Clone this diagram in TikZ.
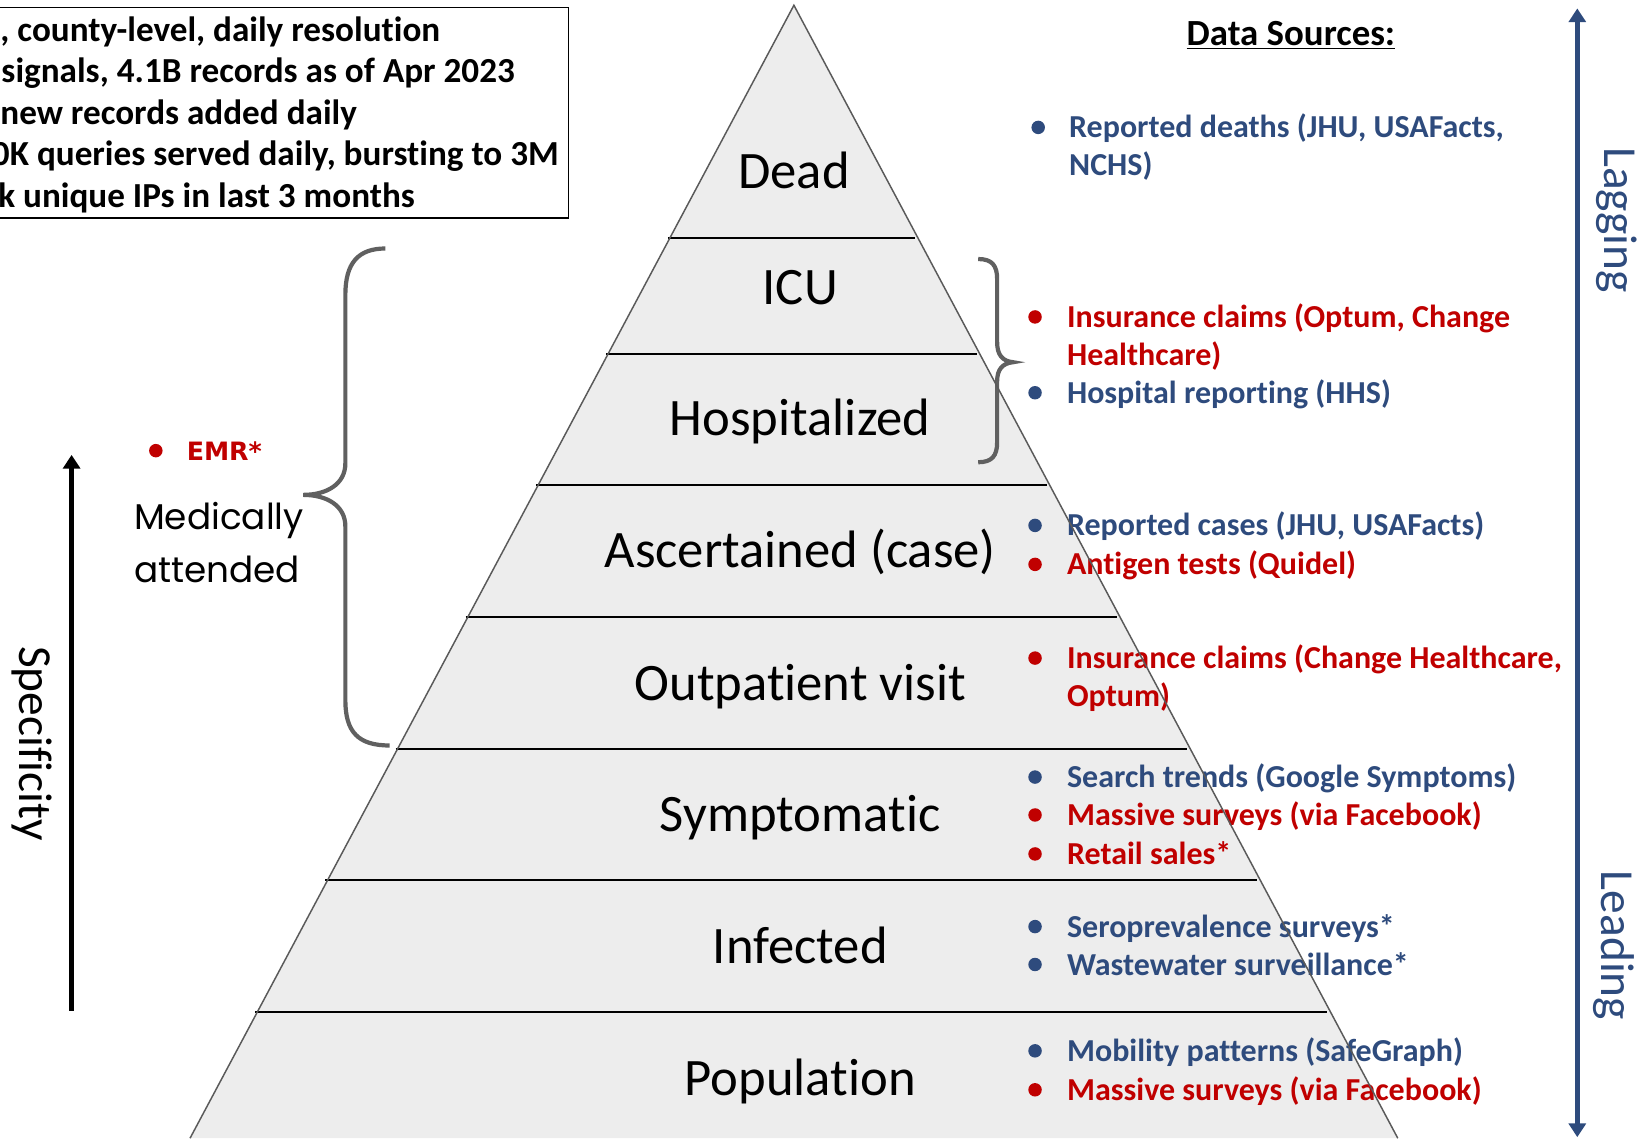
\documentclass[tikz,border=0pt]{standalone}
\usepackage{fontspec}
\setmainfont{Carlito}[Ligatures=CommonOff]
\newfontfamily\geofont{Poppins}
\newfontfamily\verdfont{DejaVu Sans}
\usetikzlibrary{math}
\usetikzlibrary{arrows.meta}

\definecolor{layergray}{HTML}{EDEDED}
\definecolor{edgegray}{HTML}{5A5A5A}
\definecolor{bracegray}{HTML}{606060}
\definecolor{srcblue}{HTML}{2E4B7D}
\definecolor{srcred}{HTML}{C00000}

\begin{document}
\begin{tikzpicture}[x=0.5pt, y=-0.5pt,
  layer/.style={anchor=base, inner sep=0pt, font=\fontsize{25}{30}\selectfont},
  divider/.style={black, line width=1pt},
  pyredge/.style={edgegray, line width=0.7pt},
  src/.style={anchor=base west, inner sep=0pt, font=\bfseries\fontsize{15.2}{18}\selectfont},
  srcb/.style={src, text=srcblue},
  srcr/.style={src, text=srcred},
  dotb/.style={circle, inner sep=0pt, minimum size=6.4pt, fill=srcblue},
  dotr/.style={circle, inner sep=0pt, minimum size=6.4pt, fill=srcred},
  boxline/.style={anchor=base west, inner sep=0pt, font=\bfseries\fontsize{16.7}{20}\selectfont},
  curly/.style={bracegray, line width=2pt},
  sidelabel/.style={rotate=-90, inner sep=0pt, font=\fontsize{22.5}{27}\selectfont},
]

\tikzmath{
\apexx = 754;
\apexy = 5;
\pyrslope = 0.533;
\basey = 1081;
\halfbase = \pyrslope*(\basey-\apexy);
}

\useasboundingbox (0,0) rectangle (1568,1081);
\clip (0,0) rectangle (1568,1081);

%stats box
\draw[black, line width=0.8pt] (-20,7) rectangle (540,207);
\node[boxline] (stat1) at (0,39) {, county-level, daily resolution};
\node[boxline] (stat2) at (1,78) {signals, 4.1B records as of Apr 2023};
\node[boxline] (stat3) at (0,118) {new records added daily};
\node[boxline] (stat4) at (-8,157) {0K queries served daily, bursting to 3M};
\node[boxline] (stat5) at (-2,197) {k unique IPs in last 3 months};

%pyramid
\fill[layergray] (\apexx,\apexy) -- ({\apexx-\halfbase},\basey) -- ({\apexx+\halfbase},\basey) -- cycle;
\foreach \ly in {226,336,461,586,711,836,961}
  \draw[divider] ({\apexx-\pyrslope*(\ly-\apexy)-2},\ly) -- ({\apexx+\pyrslope*(\ly-\apexy)-3},\ly);

\node[layer] (dead) at (754,179) {Dead};
\node[layer] (icu) at (760,289) {ICU};
\node[layer] (hosp) at (760,414) {Hospitalized};
\node[layer] (asc) at (760,539) {Ascertained (case)};
\node[layer] (outp) at (760,665) {Outpatient visit};
\node[layer] (sympt) at (760,790) {Symptomatic};
\node[layer] (infect) at (760,915) {Infected};
\node[layer] (popul) at (760,1040) {Population};

%braces
\draw[curly] (366,236) .. controls (340,236) and (328,250) .. (328,280) -- (328,440)
  .. controls (328,460) and (310,470) .. (288,470)
  .. controls (310,470) and (328,480) .. (328,500) -- (328,665)
  .. controls (328,695) and (340,708) .. (370,708);
\draw[curly] (929,246) .. controls (942,246) and (947,252) .. (947,265) -- (947,325)
  .. controls (947,337) and (952,343) .. (962,344)
  .. controls (952,345) and (947,351) .. (947,362) -- (947,420)
  .. controls (947,433) and (942,439) .. (929,439);

%left side
\node[dotr] (emrdot) at (148,428) {};
\node[anchor=base west, inner sep=0pt, text=srcred, font=\verdfont\bfseries\fontsize{12}{14}\selectfont] (emr) at (177,437) {EMR*};
\node[anchor=base west, inner sep=0pt, font=\geofont\fontsize{17}{25}\selectfont] (medi1) at (127,503) {Medically};
\node[anchor=base west, inner sep=0pt, font=\geofont\fontsize{17}{25}\selectfont] (medi2) at (127,553) {attended};

\coordinate (spbot) at (68,960);
\coordinate (sptop) at (68,432);
\draw[black, line width=2.5pt, -{Triangle[width=8pt,length=6.5pt]}] (spbot) -- (sptop);
\node[sidelabel] (spec) at (30,706) {Specificity};

%data sources
\node[anchor=base, inner sep=0pt, font=\bfseries\fontsize{17.5}{21}\selectfont] (dshead) at (1226,43) {\underline{Data Sources:}};

\node[dotb] (d1) at (986,121) {};
\node[srcb] (deaths1) at (1015,131) {Reported deaths (JHU, USAFacts,};
\node[srcb] (deaths2) at (1015,167) {NCHS)};

\node[dotr] (d2) at (983,301) {};
\node[srcr] (claimsa1) at (1013,311) {Insurance claims (Optum, Change};
\node[srcr] (claimsa2) at (1013,347) {Healthcare)};
\node[dotb] (d3) at (983,373) {};
\node[srcb] (hhs) at (1013,383) {Hospital reporting (HHS)};

\node[dotb] (d4) at (983,499) {};
\node[srcb] (cases) at (1013,509) {Reported cases (JHU, USAFacts)};
\node[dotr] (d5) at (983,536) {};
\node[srcr] (antigen) at (1013,546) {Antigen tests (Quidel)};

\node[dotr] (d6) at (983,625) {};
\node[srcr] (claimsb1) at (1013,635) {Insurance claims (Change Healthcare,};
\node[srcr] (claimsb2) at (1013,671) {Optum)};

\node[dotb] (d7) at (983,738) {};
\node[srcb] (search) at (1013,748) {Search trends (Google Symptoms)};
\node[dotr] (d8) at (983,774) {};
\node[srcr] (fbsym) at (1013,784) {Massive surveys (via Facebook)};
\node[dotr] (d9) at (983,811) {};
\node[srcr] (retail) at (1013,821) {Retail sales*};

\node[dotb] (d10) at (983,880) {};
\node[srcb] (sero) at (1013,890) {Seroprevalence surveys*};
\node[dotb] (d11) at (983,916) {};
\node[srcb] (waste) at (1013,926) {Wastewater surveillance*};

\node[dotb] (d12) at (983,998) {};
\node[srcb] (mobil) at (1013,1008) {Mobility patterns (SafeGraph)};
\node[dotr] (d13) at (983,1035) {};
\node[srcr] (fbpop) at (1013,1045) {Massive surveys (via Facebook)};

%pyramid sides over the text
\draw[pyredge] ({\apexx-\halfbase},\basey) -- (\apexx,\apexy) -- ({\apexx+\halfbase},\basey);

%lagging / leading
\coordinate (lagtop) at (1498,8);
\coordinate (leadbot) at (1498,1080);
\draw[srcblue, line width=2.5pt, {Triangle[width=8pt,length=6.5pt]}-{Triangle[width=8pt,length=6.5pt]}] (leadbot) -- (lagtop);
\node[sidelabel, text=srcblue] (lag) at (1535,209) {Lagging};
\node[sidelabel, text=srcblue] (lead) at (1533,898) {Leading};

\end{tikzpicture}
\end{document}
